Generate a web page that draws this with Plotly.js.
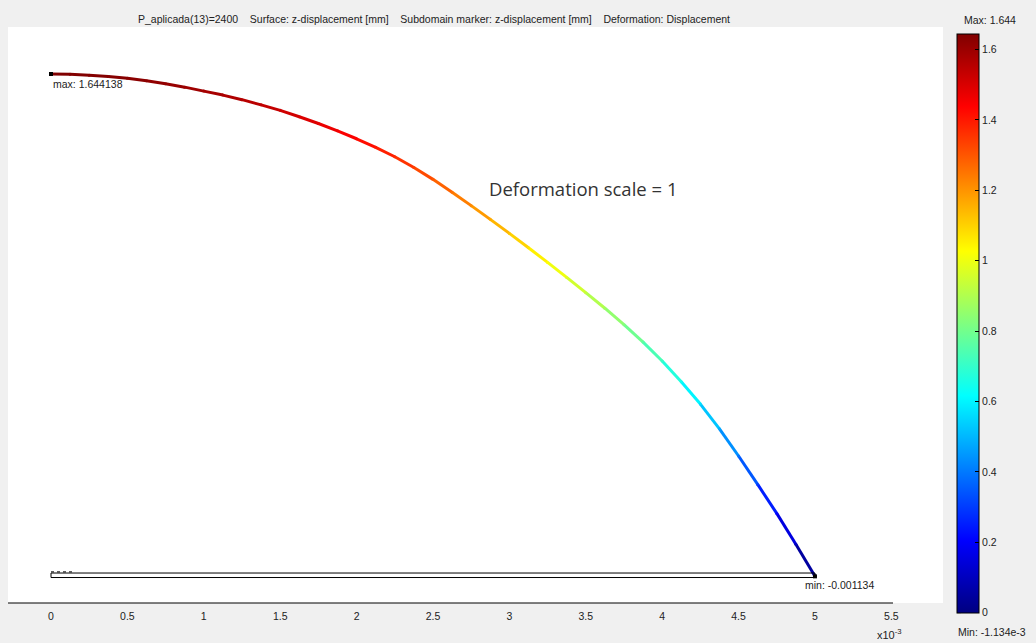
<!DOCTYPE html>
<html>
<head>
<meta charset="utf-8">
<script src="https://cdn.plot.ly/plotly-3.0.1.min.js"></script>
<style>html,body{margin:0;padding:0;background:#f0f0f0;}#chart{width:1036px;height:643px;}</style>
</head>
<body>
<div id="chart"></div>
<script>
// radial position (x10^-3 m) and z-displacement [mm]
const radius = [0, 0.125, 0.25, 0.375, 0.5, 0.625, 0.75, 0.875, 1.0, 1.125, 1.25, 1.375, 1.5, 1.625, 1.75, 1.875, 2.0, 2.125, 2.25, 2.375, 2.5, 2.625, 2.75, 2.875, 3.0, 3.125, 3.25, 3.375, 3.5, 3.625, 3.75, 3.875, 4.0, 4.125, 4.25, 4.375, 4.5, 4.625, 4.75, 4.875, 5.0];
const zDisp = [1.644, 1.643, 1.640, 1.636, 1.630, 1.622, 1.612, 1.601, 1.588, 1.575, 1.560, 1.543, 1.525, 1.504, 1.482, 1.458, 1.432, 1.404, 1.373, 1.338, 1.299, 1.257, 1.213, 1.168, 1.122, 1.075, 1.027, 0.978, 0.928, 0.877, 0.823, 0.766, 0.704, 0.636, 0.563, 0.482, 0.393, 0.300, 0.205, 0.104, -0.001134];
const zMax = 1.644138;
const zMin = -0.001134;
const xTicks = [0, 0.5, 1, 1.5, 2, 2.5, 3, 3.5, 4, 4.5, 5, 5.5];
const cbTicks = [0, 0.2, 0.4, 0.6, 0.8, 1, 1.2, 1.4, 1.6];
const plateX = [0, 5];
const titleText = "P_aplicada(13)=2400    Surface: z-displacement [mm]    Subdomain marker: z-displacement [mm]    Deformation: Displacement";

const jet = [[0,'#000080'],[0.125,'#0000ff'],[0.375,'#00ffff'],[0.625,'#ffff00'],[0.875,'#ff0000'],[1,'#800000']];
function hexToRgb(h){return [parseInt(h.substr(1,2),16),parseInt(h.substr(3,2),16),parseInt(h.substr(5,2),16)];}
function colorAt(v){
  let t=(v-zMin)/(zMax-zMin); t=Math.max(0,Math.min(1,t));
  for(let i=0;i<jet.length-1;i++){
    const a=jet[i], b=jet[i+1];
    if(t<=b[0]){
      const f=(t-a[0])/(b[0]-a[0]); const ca=hexToRgb(a[1]), cb=hexToRgb(b[1]);
      return 'rgb('+ca.map((c,k)=>Math.round(c+(cb[k]-c)*f)).join(',')+')';
    }
  }
  return jet[jet.length-1][1];
}

const traces = [];
for(let i=0;i<radius.length-1;i++){
  traces.push({x:[radius[i],radius[i+1]], y:[zDisp[i],zDisp[i+1]], mode:'lines', type:'scatter',
    line:{color:colorAt((zDisp[i]+zDisp[i+1])/2), width:3}, hoverinfo:'skip', showlegend:false});
}
traces.push({x:radius, y:zDisp, mode:'markers', type:'scatter', showlegend:false, hoverinfo:'skip',
  marker:{size:3, color:zDisp, colorscale:jet, cmin:zMin, cmax:zMax, showscale:true,
    colorbar:{xref:'paper', x:(957-8)/935, xanchor:'left', yref:'paper', y:(603-613)/576, yanchor:'bottom',
      lenmode:'pixels', len:579, thicknessmode:'pixels', thickness:22, xpad:0, ypad:0,
      outlinewidth:1, outlinecolor:'#000', borderwidth:0, tickmode:'array', tickvals:cbTicks,
      ticktext:cbTicks.map(String), ticks:'inside', ticklen:4, tickcolor:'#000', tickwidth:1,
      tickfont:{family:'Liberation Sans, Arial', size:10.5, color:'#222'}}}});
// end markers
traces.push({x:[radius[0], radius[radius.length-1]], y:[zMax, zMin], mode:'markers', type:'scatter',
  marker:{size:4, color:'#000', symbol:'square'}, showlegend:false, hoverinfo:'skip'});

const shapes = [
  {type:'line', xref:'paper', yref:'paper', x0:0, x1:(893-8)/935, y0:0, y1:0, line:{color:'#000', width:1}},
  {type:'rect', xref:'x', yref:'y', x0:plateX[0], x1:plateX[1], y0:-0.005, y1:0.0098, line:{color:'#000', width:1}, fillcolor:'rgba(0,0,0,0)'},
  {type:'line', xref:'x', yref:'y', x0:0, x1:0.15, y0:0.0135, y1:0.0135, line:{color:'#000', width:1, dash:'dot'}}
];
// left-side colorbar ticks
cbTicks.forEach(v=>{
  const py = 613 - (v - zMin)/(zMax - zMin)*579;
  const yp = (603 - py)/576;
  shapes.push({type:'line', xref:'paper', yref:'paper', x0:(957-8)/935, x1:(961-8)/935, y0:yp, y1:yp, line:{color:'#000', width:1}});
});

const f10 = {family:'Liberation Sans, Arial', size:10.5, color:'#222'};
const layout = {
  width:1036, height:643,
  paper_bgcolor:'#f0f0f0', plot_bgcolor:'#ffffff',
  margin:{l:8, r:93, t:27, b:40, pad:0},
  showlegend:false,
  xaxis:{range:[-0.2814, 5.838], tickmode:'array', tickvals:xTicks, ticktext:xTicks.map(String),
    showgrid:false, zeroline:false, showline:false, ticks:'', ticklabelstandoff:5, tickfont:f10, fixedrange:true},
  yaxis:{range:[-0.0884, 1.798], visible:false, showgrid:false, zeroline:false, fixedrange:true},
  shapes:shapes,
  annotations:[
    {xref:'paper', yref:'paper', x:(434-8)/935, y:(603-19)/576, text:titleText.replace(/ /g,'\u00a0'), showarrow:false, xanchor:'center', yanchor:'middle', font:f10},
    {xref:'x', yref:'y', x:0, y:(576-84)/305.4, text:'max: 1.644138', showarrow:false, xanchor:'left', yanchor:'middle', xshift:0, font:f10},
    {xref:'x', yref:'y', x:(803-51)/152.8, y:(576-585)/305.4, text:'min: -0.001134', showarrow:false, xanchor:'left', yanchor:'middle', font:f10},
    {xref:'x', yref:'y', x:(583-51)/152.8, y:(576-188)/305.4, text:'Deformation scale = 1', showarrow:false, xanchor:'center', yanchor:'middle', font:{family:'Open Sans, Noto Sans', size:18.5, color:'#333'}},
    {xref:'paper', yref:'paper', x:(990-8)/935, y:(603-20)/576, text:'Max: 1.644', showarrow:false, xanchor:'center', yanchor:'middle', font:f10},
    {xref:'paper', yref:'paper', x:(992-8)/935, y:(603-632)/576, text:'Min: -1.134e-3', showarrow:false, xanchor:'center', yanchor:'middle', font:f10},
    {xref:'paper', yref:'paper', x:(889-8)/935, y:(603-634)/576, text:'x10<sup>-3</sup>', showarrow:false, xanchor:'center', yanchor:'middle', font:{family:'Liberation Sans, Arial', size:11, color:'#222'}}
  ]
};
Plotly.newPlot('chart', traces, layout, {displayModeBar:false, staticPlot:true});
</script>
</body>
</html>
